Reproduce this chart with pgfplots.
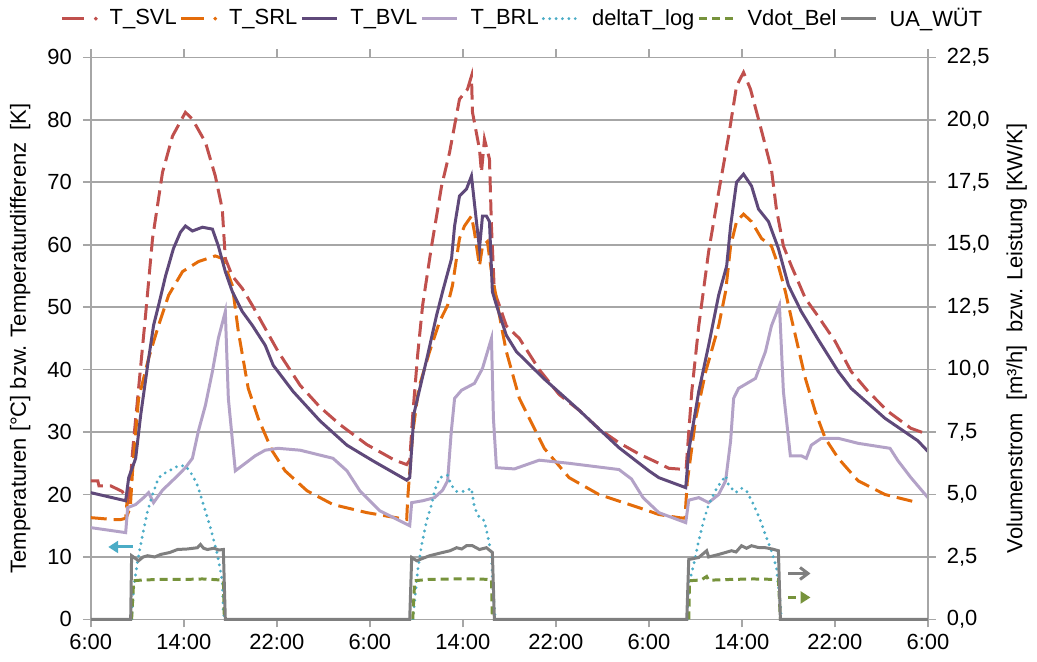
\documentclass[border=0pt]{standalone}
\usepackage{fontspec}
\setmainfont{Liberation Sans}
\usepackage{pgfplots}
\pgfplotsset{compat=1.18}
\usetikzlibrary{arrows.meta}

\definecolor{cSVL}{HTML}{C0504D}
\definecolor{cSRL}{HTML}{E46C0A}
\definecolor{cBVL}{HTML}{5F497A}
\definecolor{cBRL}{HTML}{B3A2C7}
\definecolor{cdT}{HTML}{4BACC6}
\definecolor{cV}{HTML}{77933C}
\definecolor{cUA}{HTML}{7F7F7F}
\definecolor{cgrid}{HTML}{A6A6A6}

\pgfplotsset{
  base/.style={
    width=420pt, height=282pt, scale only axis,
    xmin=0, xmax=72,
    tick align=outside, major tick length=4pt,
    tick style={cgrid, line width=0.8pt},
    axis line style={cgrid, line width=0.8pt},
    tick label style={font=\fontsize{11}{13}\selectfont},
    label style={font=\fontsize{11}{13}\selectfont},
    /pgf/number format/assume math mode=true,
  },
  svl/.style={cSVL, line width=1.5pt, dash pattern=on 8pt off 3.5pt},
  srl/.style={cSRL, line width=1.5pt, dash pattern=on 8pt off 3.5pt},
  bvl/.style={cBVL, line width=1.5pt},
  brl/.style={cBRL, line width=1.5pt},
  dtl/.style={cdT, line width=1.6pt, line cap=round, dash pattern=on 0pt off 3.2pt},
  vdot/.style={cV, line width=1.5pt, dash pattern=on 4pt off 2.5pt},
  ua/.style={cUA, line width=1.5pt},
}

\begin{document}
\begin{tikzpicture}
\begin{axis}[
  base,
  ymin=0, ymax=90, ytick={0,10,...,90},
  xtick={0,8,...,72},
  xticklabels={6:00,14:00,22:00,6:00,14:00,22:00,6:00,14:00,22:00,6:00},
  yticklabel style={xshift=-2pt},
  ymajorgrids, grid style={cgrid, line width=0.8pt},
  ylabel={Temperaturen [°C] bzw. Temperaturdifferenz\ \ [K]},
  ylabel style={inner sep=5pt},
  unbounded coords=jump,
  after end axis/.code={\path (rel axis cs:0,0) ++(0pt,-21pt);},
]
% T_SVL
\addplot[svl] coordinates {
(0,22.2) (0.6,22.2) (0.7,21.4) (1.7,21.4) (2.7,20.5) (3.2,19) (3.4,22)
(3.6,27) (4.11,37) (4.71,48.7) (5.31,61) (6.17,71.6) (7.03,77.4) (8.14,81.2)
(8.74,80.1) (9.86,76.4) (10.71,71) (11.31,65.7) (11.57,57.8) (12.17,55)
(13.03,53) (13.89,50.3) (15.0,46.6) (16.11,42.9) (18.0,37.5) (19.71,34)
(21.43,31.2) (23.74,28) (26.14,25.5) (27.17,24.8)
(27.43,25.5) (27.7,33) (28.11,42.3) (28.54,50.3) (29.31,59.8) (30.17,69.4)
(30.86,74.8) (31.71,83.3) (32.40,84.9) (32.74,87) (32.83,81.2) (33.43,75.3)
(33.60,71.6) (33.86,76.9) (34.29,73.7) (34.46,63) (34.71,52.5) (35.14,50.3)
(35.74,47) (36.86,45) (38.57,40) (40.29,36) (42.0,33.5) (43.71,30.5)
(45.43,28.3) (47.14,26.5) (48.86,25) (49.71,24.2) (51.2,24)
(51.43,30) (51.69,36.5) (52.29,47) (53.14,58.9) (54.0,68.4) (54.86,77.4)
(55.54,85.4) (56.14,87.6) (56.74,84.9) (57.43,80.1) (58.03,75.8) (58.54,72.1)
(58.97,65.7) (59.57,59.8) (60.26,56.6) (61.46,51.4) (62.57,48.5) (64.03,44.5)
(65.40,39.7) (66.86,36.5) (68.57,33.3) (70.54,30.6) (71.74,29.8) (72,29.8)
};
% T_SRL
\addplot[srl] coordinates {
(0,16.3) (1.89,16.0) (2.6,16.0) (3.0,16.2) (3.1,18.5) (3.2,17) (3.4,18)
(3.6,24) (4.11,35.4) (4.97,41.8) (5.83,47.1) (6.69,51.9) (7.89,55.7)
(9.26,57.3) (10.71,58.2) (11.31,57.8) (12.17,53.5) (12.69,46.1) (13.54,37)
(14.40,32.2) (15.60,27) (16.71,23.8) (18.60,20.6) (20.83,18.4) (23.74,17.1)
(27.17,16.0)
(27.26,19.5) (27.7,30) (28.2,37) (29.14,42.9) (30.0,47.7) (30.69,50.3)
(31.11,53.5) (31.71,61) (32.14,63) (32.74,64.6) (33.0,62) (33.43,56.6)
(33.69,59.8) (34.11,60.5) (34.46,55.7) (34.89,51.4) (35.31,47) (35.74,42.9)
(36.86,35.4) (39.0,27.4) (41.14,22.7) (43.71,20) (47.14,17.9) (48.86,16.8)
(50.57,16.3) (51.1,16.2)
(51.3,22) (52.03,32.2) (52.89,39.7) (54.0,47) (54.60,52.5) (55.03,59.8)
(55.54,63.7) (56.14,64.9) (56.83,63.7) (57.69,61) (58.54,59.8) (59.14,56.6)
(59.74,52.5) (60.26,48.2) (60.86,43.4) (61.46,38.6) (62.31,33.3) (63.17,29)
(64.29,25.8) (65.14,24) (66.0,22.2) (68.31,20) (71.14,18.7)
};
% T_BVL
\addplot[bvl] coordinates {
(0,20.3) (3.0,19.0) (3.26,22.7) (3.86,25.8) (4.29,32.7) (4.89,40.7)
(5.40,47.1) (5.83,50.3) (6.43,55) (7.11,59.4) (7.71,62) (8.14,63) (8.74,62.2)
(9.60,62.8) (10.46,62.5) (10.97,59.8) (11.57,55.7) (12.17,52.5) (13.03,49.3)
(13.89,47.1) (15.0,43.9) (15.69,40.7) (17.40,36.5) (19.71,31.8) (22.03,27.9)
(24.26,25.4) (27.17,22.3)
(27.43,22.7) (27.8,33) (28.97,42.3) (29.74,48.7) (30.26,52.5) (31.03,57.8)
(31.29,63) (31.71,67.8) (32.31,68.9) (32.74,71) (33.17,63.7) (33.43,59.4)
(33.69,64.6) (34.03,64.6) (34.29,63.7) (34.54,52.5) (34.89,50.3) (35.74,45.5)
(36.60,42.9) (39.0,38.5) (42.0,33.5) (43.71,30.5) (45.43,27.5) (48.0,23.8)
(48.86,22.7) (51.17,21.1)
(51.43,27) (52.29,36.5) (53.14,43.9) (54.0,51.9) (54.69,56.6) (55.03,63)
(55.54,70) (56.14,71.3) (56.83,69.4) (57.43,65.7) (58.29,63.7) (59.14,59.4)
(60.0,53.5) (61.11,49.3) (62.57,44.8) (64.29,39.7) (65.40,37) (66.0,36)
(68.31,32.2) (71.14,28.6) (72,26.9)
};
% T_BRL
\addplot[brl] coordinates {
(0,14.7) (3.0,13.9) (3.17,17.9) (3.86,18.4) (4.54,19.5) (4.97,20.3)
(5.40,18.7) (6.17,20.7) (7.29,22.7) (8.14,24.3) (8.74,25.8) (9.26,30.2)
(9.86,34.3) (10.46,39.7) (10.97,45) (11.57,49.3) (11.83,35.4) (12.43,23.8)
(13.29,25) (14.14,26.2) (15.0,27.1) (16.11,27.4) (18.0,27.1) (20.83,25.8)
(22.03,23.8) (23.14,20.6) (24.86,17.4) (27.43,15.0)
(27.60,18.7) (28.54,19.0) (29.57,19.5) (30.26,20.7) (30.69,22.2) (31.0,30)
(31.29,35.4) (31.89,36.7) (33.0,37.8) (33.69,40.2) (34.46,45) (34.63,32.2)
(34.89,24.3) (36.43,24.1) (38.57,25.5) (41.14,25) (45.43,24) (46.5,22.5)
(47.5,19.5) (48.86,17.1) (51.17,15.5)
(51.43,19.1) (52.29,19.5) (53.14,18.7) (54.0,20) (54.60,22.2) (55.03,28.6)
(55.29,35.4) (55.71,37) (57.17,38.6) (58.03,42.9) (58.54,47) (59.23,50.3)
(59.57,36.5) (60.17,26.2) (61.11,26.2) (61.54,25.8) (61.97,27.9) (62.83,29)
(64.29,29) (66.0,28.2) (68.74,27.4) (69.43,25.4) (70.54,22.7) (72,19.5)
};
% deltaT_log
\addplot[dtl] coordinates {
(3.51,0) (3.69,5.1) (4.03,9.4) (4.46,13.6) (4.89,17.4) (5.31,20) (5.83,22.7)
(6.43,23.5) (7.54,24.6) (8.14,24.6) (8.74,23.1) (9.17,21.5) (9.69,18.4)
(10.29,14.7) (10.89,10.4) (11.31,6.2) (11.40,1.4) (11.49,0)
(20,nan)
(27.7,0) (27.86,3) (28.11,7.8) (28.46,12) (28.89,15.8) (29.31,18.4)
(29.57,20.6) (30.0,22.7) (30.69,23.1) (31.0,21.5) (31.46,20.5) (32.14,20.5)
(32.74,21) (33.0,17.9) (33.43,16.3) (33.86,15.8) (34.11,13.6) (34.46,10.4)
(34.54,6.7) (34.71,1.4) (34.8,0)
(45,nan)
(51.3,0) (51.43,5.6) (51.86,8.8) (52.29,12.6) (52.71,15.8) (53.14,18.4)
(53.83,21) (54.60,23) (54.86,21.5) (55.46,20.3) (55.97,21) (56.40,20.6)
(57.0,18.4) (57.60,15.8) (58.11,13.1) (58.54,11) (58.97,8.3) (59.31,2.4)
(59.4,0)
};
\draw[cdT, line width=1.5pt, -{Triangle[length=5pt,width=6pt]}] (axis cs:3.6,11.6) -- (axis cs:1.5,11.6);
\end{axis}

\begin{axis}[
  base,
  ymin=0, ymax=22.5, ytick={0,2.5,...,22.5},
  axis y line*=right, axis x line=none,
  ylabel={Volumenstrom\ \ [m³/h]\ \ bzw. Leistung [KW/K]},
  yticklabel style={xshift=2pt, /pgf/number format/.cd, fixed, fixed zerofill, precision=1, use comma},
  ylabel style={inner sep=5pt},
  clip=false,
  legend style={at={(0.516,1.035)}, anchor=south, draw=none, fill=none,
    font=\fontsize{11}{13}\selectfont, legend columns=-1,
    nodes={inner xsep=1.5pt},
    /tikz/every odd column/.append style={column sep=4.5pt}},
  legend image code/.code={\draw[#1] (0cm,0cm) -- (0.62cm,0cm);},
]
\addlegendimage{legend image code/.code={
  \draw[cSVL, line width=1.5pt] (0cm,0cm) -- (0.4cm,0cm);
  \fill[cSVL] (0.6cm,0cm) circle (0.75pt);}}
\addlegendentry{T\_SVL}
\addlegendimage{legend image code/.code={
  \draw[cSRL, line width=1.5pt] (0cm,0cm) -- (0.4cm,0cm);
  \fill[cSRL] (0.6cm,0cm) circle (0.75pt);}}
\addlegendentry{T\_SRL}
\addlegendimage{bvl}
\addlegendentry{T\_BVL}
\addlegendimage{brl}
\addlegendentry{T\_BRL}
\addlegendimage{dtl}
\addlegendentry{deltaT\_log}
% Vdot_Bel
\addplot[vdot] coordinates {
(3.51,0) (3.69,1.55) (4.5,1.58) (6,1.6) (8,1.6) (9.6,1.62) (10.5,1.6)
(11.40,1.57) (11.49,0)
};
\addlegendentry{Vdot\_Bel}
\addplot[vdot, forget plot] coordinates {
(27.69,0) (27.86,1.55) (29,1.6) (31,1.62) (33,1.62) (34.46,1.6) (34.54,0)
};
\addplot[vdot, forget plot] coordinates {
(51.43,0) (51.5,1.55) (52.5,1.58) (52.97,1.72) (53.14,1.57) (55,1.6)
(57,1.62) (59.14,1.6) (59.31,0)
};
% UA_WUeT
\addplot[ua] coordinates {
(0,0) (3.43,0) (3.51,2.55) (4.11,2.35) (4.5,2.5) (4.89,2.55) (5.5,2.5)
(6.0,2.6) (6.8,2.68) (7.46,2.8) (8.3,2.82) (9.17,2.87) (9.43,3.0) (9.7,2.85)
(10.03,2.8) (10.6,2.85) (11.0,2.78) (11.40,2.8) (11.57,0) (27.43,0)
(27.60,2.48) (28.03,2.35) (29.14,2.55) (30.26,2.68) (30.9,2.75) (31.46,2.87)
(31.9,2.82) (32.31,2.95) (32.83,2.95) (33.43,2.8) (34.03,2.87) (34.54,2.68)
(34.71,0) (51.26,0) (51.43,2.4) (52.29,2.48) (52.97,2.75) (53.14,2.5)
(54.0,2.6) (55.11,2.75) (55.5,2.7) (55.97,2.95) (56.4,2.85) (56.83,2.95)
(57.4,2.88) (58.03,2.87) (58.6,2.82) (59.14,2.75) (59.31,0) (72,0)
};
\addlegendentry{UA\_WÜT}
\draw[cUA, line width=1.5pt, -{Straight Barb[length=4pt,width=6pt]}] (axis cs:60.0,1.84) -- (axis cs:61.9,1.84);
\draw[cV, line width=1.5pt, dash pattern=on 4pt off 2.5pt, -{Triangle[length=5pt,width=6pt]}] (axis cs:60.0,0.88) -- (axis cs:61.9,0.88);
\end{axis}
\end{tikzpicture}
\end{document}
